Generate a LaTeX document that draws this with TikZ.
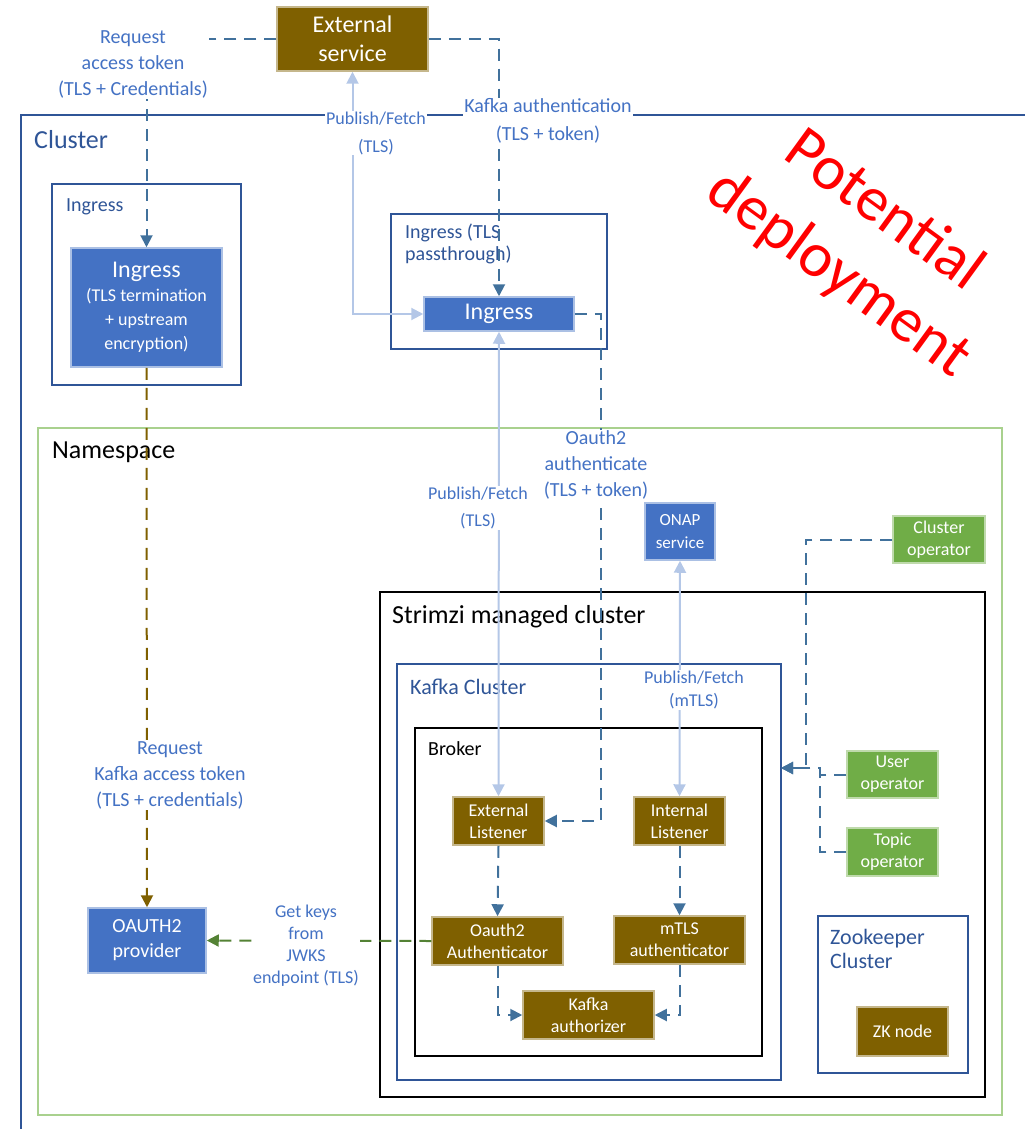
\documentclass[tikz,border=0pt]{standalone}
\usepackage{fontspec}
\setmainfont{Carlito}
\usetikzlibrary{arrows.meta,calc}
\definecolor{nblue}{HTML}{4472C4}
\definecolor{nbrown}{HTML}{7F6000}
\definecolor{ngreen}{HTML}{70AD47}
\definecolor{dblue}{HTML}{41719C}
\definecolor{lblue}{HTML}{B4C7E7}
\definecolor{gblue}{HTML}{2F5597}
\definecolor{nsgreen}{HTML}{A9D18E}
\definecolor{gkeys}{HTML}{548235}
\definecolor{tblue}{HTML}{4472C4}
\newcommand{\fsz}[2]{\fontsize{#1}{#2}\selectfont}
\newcommand{\rbox}[7]{%
  \pgfmathsetmacro{\rw}{#5-#3}\pgfmathsetmacro{\rh}{#6-#4}%
  \pgfmathsetmacro{\rcx}{(#3+#5)/2}\pgfmathsetmacro{\rcy}{(#4+#6)/2}%
  \node[#1, minimum width=\rw pt, minimum height=\rh pt] (#2) at (\rcx,\rcy) {#7};}
\begin{document}
\begin{tikzpicture}[x=1pt,y=-1pt,
  fbox/.style={draw=#1!45!white, fill=#1, line width=1.5pt, text=white, align=center, inner sep=0pt, font=\fsz{18}{22}},
  grp/.style={draw=#1, line width=1.5pt, inner sep=0pt},
  tip/.style={-{Triangle[length=12pt,width=12pt]}},
  conn/.style={draw=dblue, line width=2pt, dash pattern=on 12pt off 8pt, tip},
  bconn/.style={draw=nbrown, line width=2pt, dash pattern=on 12pt off 8pt, -{Triangle[length=12pt,width=12pt,fill=nbrown]}},
  gconn/.style={draw=gkeys, line width=2pt, dash pattern=on 12pt off 8pt, -{Triangle[length=12pt,width=12pt,fill=gkeys]}},
  pub/.style={draw=lblue, line width=2pt, {Triangle[length=12pt,width=12pt]}-{Triangle[length=12pt,width=12pt]}},
  lab/.style={text=tblue, align=center, fill=white, inner sep=1pt},
  glab/.style={text=gblue, align=left, inner sep=0pt}
]
\useasboundingbox (0,0) rectangle (1025,1129);
% cluster outline (runs off the page on right and bottom)
\draw[gblue, line width=1.5pt] (21,1129) -- (21,115) -- (1025,115);
% groups
\rbox{grp=gblue}{ing1g}{52}{184}{241}{385}{}
\rbox{grp=gblue}{ing2g}{391}{214}{607}{349}{}
\rbox{grp=nsgreen}{ns}{38}{428}{1002}{1115}{}
\rbox{grp=black}{smc}{380}{592}{985}{1097}{}
\rbox{grp=gblue}{kc}{397}{664}{781}{1080}{}
\rbox{grp=black}{brk}{415}{728}{762}{1056}{}
\rbox{grp=gblue}{zkc}{818}{916}{968}{1073}{}
% group labels
\node[glab, anchor=west, font=\fsz{26}{30}] (lcl) at (34,140) {Cluster};
\node[glab, anchor=west, font=\fsz{20}{24}] (ling1) at (66,207) {Ingress};
\node[glab, anchor=north west, font=\fsz{20}{22}] (ling2) at (405,224) {Ingress (TLS\\passthrough)};
\node[anchor=west, inner sep=0pt, font=\fsz{26}{30}] (lns) at (52,452) {Namespace};
\node[anchor=west, inner sep=0pt, font=\fsz{26}{30}] (lsmc) at (392,617) {Strimzi managed cluster};
\node[glab, anchor=west, font=\fsz{22}{26}] (lkc) at (410,687) {Kafka Cluster};
\node[anchor=west, inner sep=0pt, font=\fsz{20}{24}] (lbrk) at (428,749) {Broker};
\node[glab, anchor=north west, font=\fsz{22}{24}] (lzk) at (830,929) {Zookeeper\\Cluster};
% filled nodes
\rbox{fbox=nbrown, font=\fsz{24}{29}}{ext}{277}{7}{428}{71}{External\\service}
\rbox{fbox=nblue, font=\fsz{18}{24}}{ing1}{71}{248}{222}{367}{{\fsz{24}{25}Ingress}\\(TLS termination\\+ upstream\\encryption)}
\rbox{fbox=nblue, font=\fsz{24}{28}}{ing2}{424}{297}{574}{331}{Ingress}
\rbox{fbox=nblue, font=\fsz{20}{25}}{prov}{88}{908}{206}{973}{OAUTH2\\provider}
\rbox{fbox=nblue, font=\fsz{17}{23}}{onap}{645}{503}{715}{560}{ONAP\\service}
\rbox{fbox=ngreen}{cop}{893}{516}{985}{563}{Cluster\\operator}
\rbox{fbox=ngreen}{uop}{847}{751}{938}{798}{User\\operator}
\rbox{fbox=ngreen}{topop}{847}{828}{938}{876}{Topic\\operator}
\rbox{fbox=nbrown}{el}{453}{797}{544}{845}{External\\Listener}
\rbox{fbox=nbrown}{il}{634}{797}{725}{845}{Internal\\Listener}
\rbox{fbox=nbrown}{oa}{432}{917}{563}{965}{Oauth2\\Authenticator}
\rbox{fbox=nbrown}{mt}{614}{916}{745}{964}{mTLS\\authenticator}
\rbox{fbox=nbrown}{ka}{523}{991}{654}{1039}{Kafka\\authorizer}
\rbox{fbox=nbrown}{zk}{857}{1007}{948}{1056}{ZK node}
\coordinate (kcin) at (781,768);
% connectors
\draw[conn] (ext.west) -| (ing1.north);
\draw[conn] (ext.east) -| (ing2.north);
\draw[pub] (ext.south) |- (ing2.west);
\draw[conn] (ing2.east) -- ++(26,0) |- (el.east);
\draw[pub] (ing2.south) -- (el.north);
\draw[bconn] (ing1.south) -- (prov.north);
\draw[gconn] (oa.west) -- (prov.east);
\draw[pub] (onap.south) -- (il.north);
\draw[conn] (cop.west) -| (806,768) -- (kcin);
\draw[conn] (topop.west) -- ++(-26,0) |- (kcin);
\draw[draw=dblue, line width=2pt, dash pattern=on 12pt off 8pt] (uop.west) -- ++(-26,0);
\draw[conn] (el.south) -- (oa.north);
\draw[conn] (il.south) -- (mt.north);
\draw[conn] (oa.south) |- (ka.west);
\draw[conn] (mt.south) |- (ka.east);
% connector labels
\node[lab, font=\fsz{20}{26}] (lreq) at (133,64) {Request\\access token\\(TLS + Credentials)};
\node[lab, font=\fsz{20}{28}] (lkafka) at (548,121) {Kafka authentication\\(TLS + token)};
\node[lab, font=\fsz{18}{28}] (lpub1) at (376,133) {Publish/Fetch\\(TLS)};
\node[lab, font=\fsz{20}{26}] (loa) at (596,465) {Oauth2\\authenticate\\(TLS + token)};
\node[lab, font=\fsz{18}{27}] (lpub2) at (478,508) {Publish/Fetch\\(TLS)};
\node[lab, font=\fsz{18}{23}] (lpub3) at (694,690) {Publish/Fetch\\(mTLS)};
\node[lab, font=\fsz{20}{26}] (lreqk) at (170,775) {Request\\Kafka access token\\(TLS + credentials)};
\node[lab, font=\fsz{18}{22}] (lkeys) at (306,946) {Get keys\\from\\JWKS\\endpoint (TLS)};
% watermark
\node[text=red, align=center, rotate=-36, inner sep=0pt, font=\fsz{63}{78}] (pd) at (861,243) {Potential\\deployment};
\end{tikzpicture}
\end{document}
